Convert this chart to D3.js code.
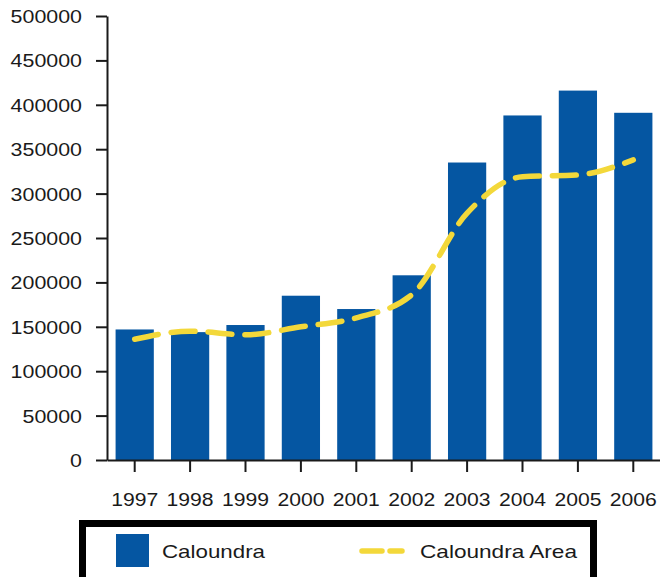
<!DOCTYPE html>
<html>
<head>
<meta charset="utf-8">
<script src="https://cdn.jsdelivr.net/npm/d3@7"></script>
<style>
  body { margin: 0; background: #fff; }
  svg { display: block; }
  .axis path, .axis line { stroke: #1a1a1a; stroke-width: 2; }
  .axis text { font-family: "Liberation Sans", Arial, sans-serif; fill: #1a1a1a; }
</style>
</head>
<body>
<div id="chart"></div>
<script>
// data
var years = ["1997", "1998", "1999", "2000", "2001", "2002", "2003", "2004", "2005", "2006"];
var caloundra = [147000, 144000, 152000, 185000, 170000, 208000, 335000, 388000, 416000, 391000];
var caloundraArea = [136000, 145000, 141000, 150000, 160000, 186000, 278000, 319000, 321000, 338000];
var yTicks = [0, 50000, 100000, 150000, 200000, 250000, 300000, 350000, 400000, 450000, 500000];
var seriesNames = ["Caloundra", "Caloundra Area"];

var width = 660, height = 577;
var barColor = "#0556a2", lineColor = "#f3d83a";

var svg = d3.select("#chart").append("svg")
    .attr("width", width)
    .attr("height", height);

var x = d3.scaleBand()
    .domain(years)
    .range([107, 661])
    .paddingInner(0.31)
    .paddingOuter(0.155);

var y = d3.scaleLinear()
    .domain([0, 500000])
    .range([460, 16]);

// bars
svg.append("g").selectAll("rect")
    .data(years)
    .enter().append("rect")
    .attr("x", function(d) { return x(d); })
    .attr("y", function(d, i) { return y(caloundra[i]); })
    .attr("width", x.bandwidth())
    .attr("height", function(d, i) { return y(0) - y(caloundra[i]); })
    .attr("fill", barColor);

// y axis
var yAxis = svg.append("g")
    .attr("class", "axis")
    .attr("transform", "translate(107,0)")
    .call(d3.axisLeft(y).tickValues(yTicks).tickSize(11).tickSizeOuter(0).tickPadding(14).tickFormat(d3.format("d")));
yAxis.selectAll("text")
    .style("font-size", "18px")
    .attr("dy", "0.36em")
    .attr("textLength", function(d) { return String(d).length * 11.9; })
    .attr("lengthAdjust", "spacingAndGlyphs");

// x axis
var xAxis = svg.append("g")
    .attr("class", "axis")
    .attr("transform", "translate(0,460)")
    .call(d3.axisBottom(x).tickSize(12).tickSizeOuter(0).tickPadding(0));
xAxis.selectAll("text")
    .style("font-size", "18px")
    .attr("y", 46)
    .attr("dy", 0)
    .attr("textLength", 47)
    .attr("lengthAdjust", "spacingAndGlyphs");

// line
var line = d3.line()
    .curve(d3.curveMonotoneX)
    .x(function(d, i) { return x(years[i]) + x.bandwidth() / 2; })
    .y(function(d) { return y(d); });

svg.append("path")
    .datum(caloundraArea)
    .attr("fill", "none")
    .attr("stroke", lineColor)
    .attr("stroke-width", 5.5)
    .attr("stroke-linecap", "round")
    .attr("stroke-dasharray", "24,13")
    .attr("d", line);

// legend
var legend = svg.append("g").attr("class", "legend");
legend.append("rect")
    .attr("x", 82.5)
    .attr("y", 523.5)
    .attr("width", 511)
    .attr("height", 70)
    .attr("fill", "#fff")
    .attr("stroke", "#000")
    .attr("stroke-width", 7);

legend.append("rect")
    .attr("x", 116)
    .attr("y", 534)
    .attr("width", 33)
    .attr("height", 33)
    .attr("fill", barColor);

legend.append("line")
    .attr("x1", 362).attr("x2", 402)
    .attr("y1", 551).attr("y2", 551)
    .attr("stroke", lineColor)
    .attr("stroke-width", 5.5)
    .attr("stroke-linecap", "round")
    .attr("stroke-dasharray", "20,8");

legend.selectAll("text")
    .data(seriesNames)
    .enter().append("text")
    .attr("x", function(d, i) { return i === 0 ? 162 : 420; })
    .attr("y", 558)
    .attr("textLength", function(d, i) { return i === 0 ? 103 : 157; })
    .attr("lengthAdjust", "spacingAndGlyphs")
    .style("font-family", "Liberation Sans, Arial, sans-serif")
    .style("font-size", "19px")
    .style("fill", "#1a1a1a")
    .text(function(d) { return d; });
</script>
</body>
</html>
